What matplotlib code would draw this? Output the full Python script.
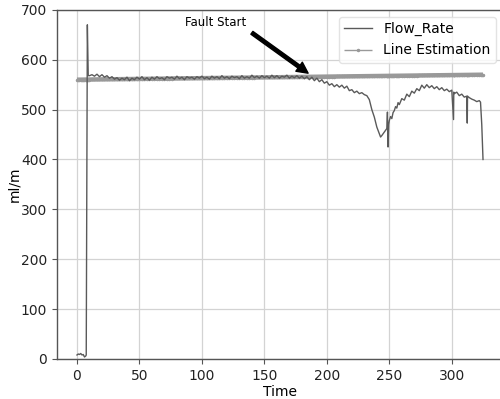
import numpy as np
import matplotlib
matplotlib.use('Agg')
import matplotlib.pyplot as plt

# flow rate readings (time, ml/m)
time = [0, 1, 2, 3, 4, 5, 6, 7, 7.4, 8.3, 9,
        10, 12, 14, 16, 18, 20, 22, 24, 26, 28, 30, 32, 34, 36, 38, 40,
        42, 44, 46, 48, 50, 52, 54, 56, 58, 60, 62, 64, 66, 68, 70, 72,
        74, 76, 78, 80, 82, 84, 86, 88, 90, 92, 94, 96, 98, 100, 102, 104,
        106, 108, 110, 112, 114, 116, 118, 120, 122, 124, 126, 128, 130,
        132, 134, 136, 138, 140, 142, 144, 146, 148, 150, 152, 154, 156,
        158, 160, 162, 164, 166, 168, 170, 172, 174, 176, 178, 180, 182,
        184, 186, 188, 190,
        192, 194, 196, 198, 200, 202, 204, 206, 208, 210, 212, 214, 216,
        218, 220, 222, 224, 226, 228, 230, 232, 234, 236, 238, 240, 242,
        243, 244, 246, 248, 248.5, 249, 249.5, 250, 251, 252, 253, 254,
        255, 256, 257, 258, 260, 262, 264, 266, 268, 270, 272, 274, 276,
        278, 280, 282, 284, 286, 288, 290, 292, 294, 296, 298, 300, 301.4,
        301.6, 302, 304, 306, 308, 310, 312, 312.4, 312.6, 314, 316, 318,
        320, 322, 323, 324, 325]
flow = [8, 10, 9, 11, 8, 9, 4, 6, 8, 670, 568,
        568, 570, 567, 571, 566, 570, 565, 568, 563, 566, 561, 564, 559,
        563, 560, 565, 558, 563, 560, 565, 561, 566, 560, 564, 559, 565,
        561, 566, 562, 564, 560, 566, 563, 565, 561, 567, 562, 565, 560,
        566, 563, 565, 561, 566, 563, 567, 562, 565, 561, 567, 563, 566,
        562, 568, 563, 566, 562, 567, 564, 566, 562, 568, 563, 566, 563,
        569, 564, 567, 563, 568, 564, 567, 563, 569, 564, 568, 563, 567,
        565, 569, 563, 567, 564, 568, 563, 567, 562, 566, 560, 565, 558,
        563, 556, 560, 553, 556, 549, 552, 546, 550, 545, 549, 543, 547,
        538, 540, 534, 537, 532, 534, 530, 528, 520, 500, 485, 465, 452,
        445, 448, 455, 462, 495, 425, 470, 478, 486, 482, 494, 498, 506,
        503, 514, 510, 522, 519, 531, 526, 537, 533, 542, 538, 549, 543,
        550, 544, 548, 542, 546, 540, 544, 538, 541, 536, 539, 480,
        535, 532, 535, 528, 531, 525, 527, 473, 527, 524, 521, 519, 516,
        518, 515, 470, 400]

# linear estimation of the healthy flow
est_intercept = 560.0
est_slope = 10.0 / 325.0

t = np.array(time)
est = est_intercept + est_slope * t

fig = plt.figure(figsize=(5.0, 3.99), dpi=100)
ax = fig.add_axes([0.114, 0.1003, 0.892, 0.875])

ax.plot(t, flow, color='#5a5a5a', linewidth=1.0, label='Flow_Rate', zorder=3)
ax.plot(t, est, color='#999999', linewidth=3.2, marker='.', markersize=3,
        solid_capstyle='butt', label='Line Estimation', zorder=2)

ax.set_xlim(-16, 341)
ax.set_ylim(0, 700)
ax.set_xticks([0, 50, 100, 150, 200, 250, 300])
ax.set_yticks([0, 100, 200, 300, 400, 500, 600, 700])

ax.grid(color='#d3d3d3', linewidth=0.9)
ax.set_axisbelow(True)
for s in ax.spines.values():
    s.set_color('#555555')
    s.set_linewidth(1.0)
ax.tick_params(direction='out', length=3.5, color='#555555', labelsize=10,
               labelcolor='#222222')

ax.set_xlabel('Time', fontsize=10, labelpad=2)
ax.set_ylabel('ml/m', fontsize=10, labelpad=0)

ax.text(111, 674, 'Fault Start', fontsize=8.5, ha='center', va='center')
ax.annotate('', xy=(185, 573), xytext=(140, 654),
            arrowprops=dict(facecolor='black', edgecolor='black', width=2.5,
                            headwidth=8, headlength=8))

leg = ax.legend(loc='upper right', fontsize=10, frameon=True)
leg.get_frame().set_edgecolor('#dddddd')
leg.legend_handles[1].set_linewidth(1.0)

fig.savefig('out.png', dpi=100)
